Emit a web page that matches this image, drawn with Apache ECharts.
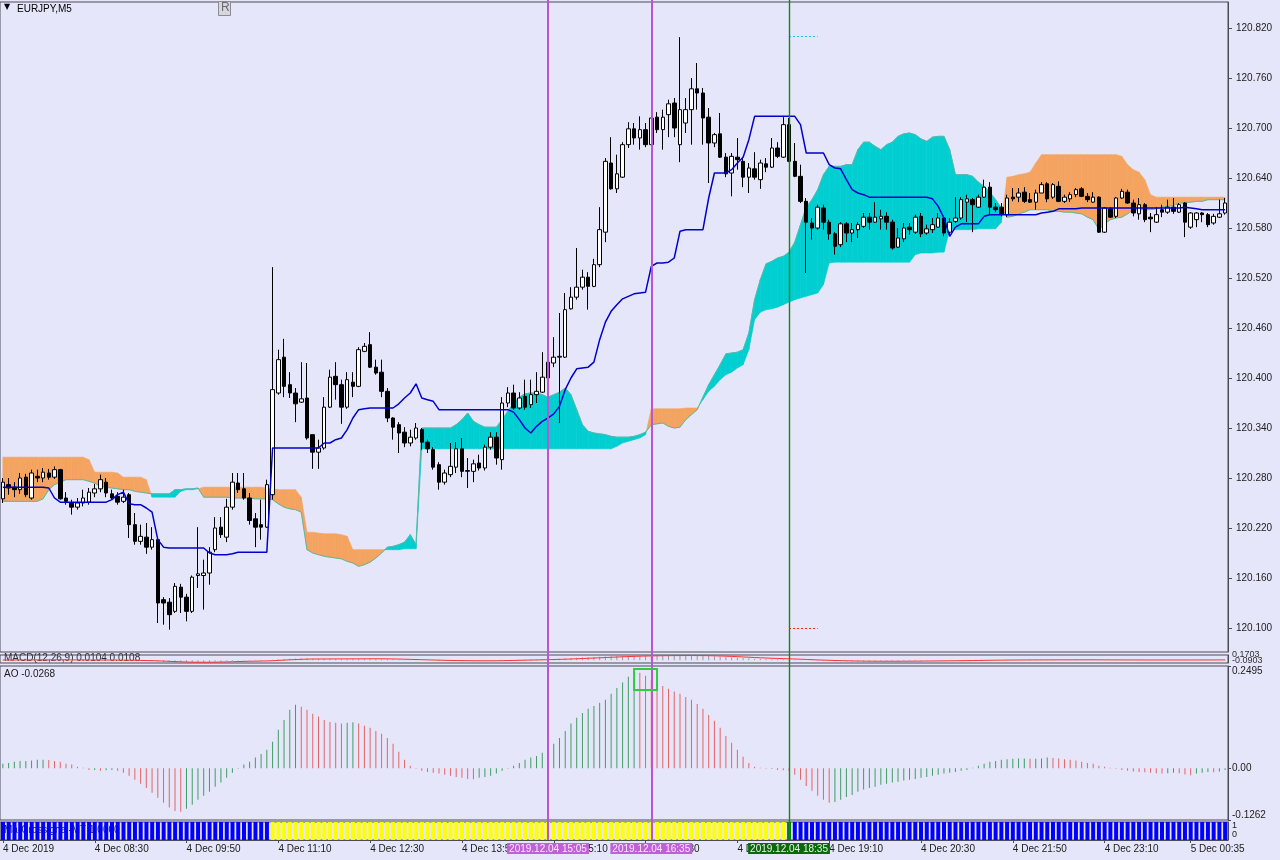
<!DOCTYPE html>
<html>
<head>
<meta charset="utf-8">
<title>EURJPY,M5</title>
<script src="https://cdn.jsdelivr.net/npm/echarts@6.0.0/dist/echarts.min.js"></script>
<style>
  html, body { margin: 0; padding: 0; background: #E6E6FA; }
  #chart { width: 1280px; height: 860px; }
</style>
</head>
<body>
<div id="chart"></div>
<script>
// EURJPY M5, 4 Dec 2019 07:10 -> 5 Dec 00:55
var opens = [
  120.255,120.272,120.269,120.266,120.281,120.256,120.282,120.280,120.286,120.281,
  120.290,120.256,120.250,120.245,120.250,120.251,120.262,120.267,120.275,120.261,
  120.258,120.252,120.260,120.224,120.204,120.209,120.197,120.206,120.134,120.131,
  120.120,120.149,120.137,120.120,120.163,120.163,120.166,120.194,120.221,120.209,
  120.245,120.274,120.267,120.256,120.231,120.224,120.221,120.260,120.382,120.425,
  120.392,120.382,120.371,120.376,120.332,120.311,120.316,120.365,120.402,120.392,
  120.365,120.395,120.390,120.432,120.440,120.413,120.407,120.384,120.352,120.344,
  120.335,120.322,120.328,120.338,120.323,120.314,120.296,120.275,120.284,120.293,
  120.315,120.288,120.288,120.298,120.292,120.317,120.329,120.302,120.370,120.382,
  120.364,120.378,120.368,120.380,120.383,120.400,120.418,120.425,120.425,120.483,
  120.497,120.509,120.521,120.510,120.536,120.575,120.658,120.627,120.641,120.680,
  120.699,120.688,120.698,120.680,120.713,120.698,120.716,120.730,120.680,120.706,
  120.722,120.747,120.742,120.713,120.682,120.693,120.665,120.646,120.665,120.660,
  120.641,120.651,120.638,120.657,120.653,120.676,120.665,120.704,120.660,120.642,
  120.612,120.586,120.580,120.604,120.587,120.573,120.560,120.585,120.574,120.578,
  120.582,120.593,120.587,120.591,120.594,120.587,120.557,120.567,120.581,120.575,
  120.594,120.574,120.578,120.581,120.592,120.575,120.588,120.592,120.611,120.614,
  120.605,120.617,120.629,120.605,120.605,120.596,120.617,120.617,120.623,120.614,
  120.611,120.622,120.633,120.617,120.630,120.612,120.615,120.620,120.627,120.618,
  120.611,120.617,120.575,120.603,120.594,120.616,120.623,120.610,120.597,120.608,
  120.593,120.587,120.602,120.599,120.605,120.599,120.610,120.581,120.590,120.598,
  120.596,120.586,120.593,120.598
];
var closes = [
  120.275,120.268,120.266,120.280,120.260,120.286,120.280,120.287,120.281,120.290,
  120.255,120.252,120.245,120.250,120.256,120.263,120.267,120.278,120.262,120.256,
  120.251,120.257,120.224,120.204,120.210,120.197,120.206,120.130,120.130,120.116,
  120.150,120.137,120.120,120.161,120.165,120.166,120.191,120.220,120.212,120.245,
  120.275,120.266,120.256,120.229,120.221,120.221,120.272,120.386,120.422,120.390,
  120.382,120.369,120.375,120.328,120.311,120.316,120.365,120.401,120.392,120.365,
  120.398,120.390,120.434,120.438,120.413,120.406,120.384,120.352,120.341,120.334,
  120.322,120.329,120.340,120.323,120.315,120.293,120.275,120.286,120.294,120.315,
  120.288,120.289,120.297,120.292,120.317,120.329,120.304,120.370,120.382,120.364,
  120.376,120.365,120.380,120.384,120.401,120.419,120.425,120.426,120.482,120.497,
  120.509,120.521,120.510,120.536,120.578,120.660,120.627,120.645,120.680,120.699,
  120.688,120.698,120.680,120.712,120.698,120.713,120.729,120.700,120.722,120.722,
  120.747,120.742,120.712,120.682,120.692,120.665,120.645,120.666,120.662,120.641,
  120.652,120.641,120.658,120.653,120.676,120.666,120.704,120.660,120.642,120.612,
  120.587,120.580,120.605,120.587,120.573,120.558,120.585,120.574,120.578,120.584,
  120.593,120.587,120.593,120.594,120.587,120.556,120.568,120.580,120.578,120.593,
  120.573,120.579,120.584,120.592,120.574,120.587,120.592,120.614,120.615,120.608,
  120.617,120.629,120.605,120.602,120.597,120.616,120.615,120.622,120.612,120.611,
  120.622,120.632,120.615,120.632,120.612,120.617,120.620,120.626,120.618,120.614,
  120.617,120.575,120.604,120.593,120.616,120.624,120.610,120.598,120.608,120.590,
  120.591,120.596,120.599,120.605,120.600,120.608,120.587,120.598,120.598,120.596,
  120.584,120.594,120.597,120.610
];
var lows = [
  120.250,120.260,120.257,120.261,120.257,120.254,120.275,120.275,120.278,120.279,
  120.254,120.248,120.236,120.242,120.246,120.248,120.257,120.263,120.257,120.254,
  120.248,120.250,120.208,120.200,120.200,120.189,120.194,120.106,120.104,120.098,
  120.118,120.118,120.108,120.118,120.148,120.122,120.152,120.191,120.208,120.203,
  120.242,120.262,120.254,120.224,120.197,120.206,120.220,120.254,120.380,120.377,
  120.376,120.347,120.370,120.326,120.291,120.291,120.314,120.364,120.374,120.345,
  120.363,120.377,120.389,120.431,120.412,120.404,120.377,120.347,120.326,120.310,
  120.317,120.318,120.326,120.314,120.310,120.290,120.266,120.272,120.281,120.286,
  120.281,120.268,120.275,120.289,120.289,120.314,120.296,120.290,120.365,120.362,
  120.362,120.362,120.364,120.370,120.382,120.398,120.413,120.346,120.424,120.482,
  120.494,120.506,120.482,120.509,120.533,120.563,120.626,120.622,120.640,120.676,
  120.680,120.674,120.677,120.671,120.694,120.674,120.689,120.689,120.659,120.694,
  120.680,120.722,120.680,120.634,120.677,120.664,120.641,120.618,120.650,120.629,
  120.622,120.638,120.627,120.647,120.652,120.664,120.664,120.659,120.641,120.610,
  120.526,120.566,120.578,120.578,120.566,120.548,120.557,120.563,120.563,120.568,
  120.580,120.578,120.586,120.578,120.578,120.554,120.556,120.563,120.572,120.573,
  120.569,120.572,120.574,120.580,120.570,120.573,120.586,120.590,120.587,120.575,
  120.604,120.616,120.596,120.599,120.594,120.593,120.612,120.611,120.610,120.610,
  120.602,120.622,120.611,120.615,120.611,120.610,120.611,120.617,120.617,120.611,
  120.610,120.574,120.574,120.592,120.592,120.615,120.609,120.594,120.590,120.587,
  120.575,120.586,120.593,120.597,120.597,120.598,120.569,120.579,120.581,120.587,
  120.581,120.584,120.592,120.596
];
var highs = [
  120.280,120.280,120.275,120.286,120.285,120.290,120.290,120.292,120.291,120.294,
  120.291,120.263,120.254,120.256,120.266,120.268,120.273,120.284,120.280,120.266,
  120.263,120.266,120.262,120.238,120.224,120.226,120.221,120.208,120.137,120.136,
  120.154,120.153,120.141,120.163,120.221,120.182,120.197,120.233,120.233,120.255,
  120.286,120.286,120.286,120.262,120.238,120.254,120.278,120.533,120.434,120.447,
  120.407,120.388,120.419,120.418,120.332,120.326,120.377,120.410,120.419,120.398,
  120.407,120.407,120.437,120.442,120.455,120.422,120.422,120.388,120.353,120.347,
  120.341,120.338,120.346,120.340,120.326,120.317,120.299,120.290,120.322,120.323,
  120.328,120.304,120.302,120.308,120.320,120.335,120.335,120.377,120.389,120.392,
  120.383,120.398,120.398,120.407,120.431,120.431,120.449,120.478,120.502,120.509,
  120.556,120.530,120.527,120.543,120.605,120.664,120.689,120.668,120.683,120.707,
  120.706,120.714,120.706,120.731,120.719,120.722,120.734,120.736,120.809,120.736,
  120.760,120.778,120.748,120.724,120.694,120.718,120.670,120.670,120.688,120.664,
  120.658,120.671,120.662,120.664,120.688,120.683,120.713,120.712,120.682,120.656,
  120.616,120.592,120.608,120.608,120.590,120.575,120.587,120.587,120.586,120.587,
  120.598,120.598,120.611,120.602,120.599,120.590,120.580,120.586,120.586,120.596,
  120.598,120.584,120.592,120.598,120.594,120.592,120.617,120.617,120.620,120.616,
  120.620,120.638,120.635,120.610,120.610,120.620,120.628,120.628,120.629,120.622,
  120.626,120.635,120.635,120.634,120.636,120.620,120.623,120.628,120.629,120.622,
  120.623,120.618,120.605,120.605,120.617,120.627,120.626,120.614,120.616,120.610,
  120.598,120.605,120.608,120.614,120.616,120.610,120.611,120.599,120.599,120.599,
  120.598,120.597,120.614,120.616
];
// Ichimoku: kijun (blue), senkou span A / B (cloud)
var kijun = [
  120.269,120.269,120.269,120.269,120.269,120.269,120.269,120.269,120.268,120.256,
  120.251,120.251,120.251,120.251,120.251,120.251,120.251,120.251,120.251,120.254,
  120.260,120.263,120.249,120.248,120.248,120.244,120.239,120.206,120.197,120.196,
  120.196,120.196,120.196,120.196,120.196,120.196,120.190,120.188,120.188,120.188,
  120.189,120.191,120.191,120.191,120.191,120.191,120.191,120.316,120.316,120.316,
  120.316,120.316,120.316,120.316,120.316,120.316,120.322,120.322,120.326,120.328,
  120.338,120.352,120.362,120.363,120.364,120.364,120.364,120.364,120.364,120.369,
  120.376,120.382,120.393,120.376,120.374,120.372,120.362,120.362,120.362,120.362,
  120.362,120.362,120.362,120.362,120.362,120.362,120.362,120.362,120.362,120.359,
  120.350,120.340,120.334,120.342,120.348,120.352,120.357,120.366,120.386,120.400,
  120.411,120.412,120.413,120.419,120.446,120.467,120.480,120.488,120.495,120.498,
  120.501,120.502,120.503,120.534,120.538,120.538,120.539,120.544,120.576,120.578,
  120.578,120.578,120.578,120.616,120.646,120.646,120.646,120.650,120.658,120.665,
  120.686,120.714,120.714,120.714,120.714,120.714,120.714,120.714,120.714,120.704,
  120.670,120.670,120.670,120.670,120.656,120.652,120.651,120.638,120.626,120.622,
  120.620,120.617,120.617,120.617,120.617,120.617,120.617,120.617,120.617,120.617,
  120.617,120.617,120.615,120.606,120.592,120.570,120.581,120.585,120.585,120.585,
  120.585,120.594,120.596,120.596,120.596,120.596,120.596,120.596,120.596,120.596,
  120.596,120.598,120.599,120.600,120.603,120.603,120.603,120.603,120.604,120.604,
  120.604,120.604,120.604,120.604,120.604,120.604,120.604,120.604,120.604,120.604,
  120.604,120.604,120.604,120.604,120.604,120.604,120.605,120.604,120.603,120.602,
  120.602,120.602,120.602,120.602
];
var spanA = [
  120.252,120.252,120.252,120.252,120.252,120.252,120.252,120.255,120.266,120.272,
  120.275,120.278,120.278,120.278,120.278,120.276,120.274,120.270,120.269,120.268,
  120.267,120.266,120.266,120.264,120.263,120.262,120.261,120.261,120.261,120.261,
  120.266,120.266,120.267,120.267,120.268,120.257,120.257,120.257,120.257,120.257,
  120.256,120.256,120.256,120.256,120.255,120.255,120.255,120.254,120.249,120.245,
  120.243,120.242,120.239,120.194,120.190,120.188,120.186,120.185,120.184,120.183,
  120.180,120.178,120.174,120.176,120.179,120.184,120.190,120.197,120.198,120.200,
  120.203,120.212,120.200,120.340,120.340,120.340,120.340,120.340,120.340,120.344,
  120.350,120.358,120.348,120.344,120.341,120.341,120.341,120.350,120.360,120.370,
  120.377,120.381,120.382,120.382,120.380,120.377,120.380,120.383,120.388,120.380,
  120.362,120.344,120.336,120.334,120.333,120.332,120.330,120.329,120.329,120.329,
  120.330,120.332,120.335,120.344,120.345,120.346,120.342,120.340,120.341,120.350,
  120.356,120.362,120.377,120.392,120.404,120.416,120.429,120.430,120.431,120.434,
  120.454,120.494,120.518,120.537,120.540,120.544,120.546,120.551,120.563,120.584,
  120.605,120.614,120.626,120.644,120.654,120.654,120.654,120.656,120.656,120.674,
  120.683,120.683,120.678,120.674,120.680,120.683,120.690,120.693,120.694,120.692,
  120.687,120.684,120.689,120.690,120.690,120.674,120.644,120.644,120.644,120.642,
  120.635,120.630,120.623,120.614,120.604,120.593,120.594,120.597,120.599,120.602,
  120.602,120.602,120.602,120.600,120.600,120.599,120.599,120.598,120.597,120.593,
  120.590,120.578,120.585,120.590,120.592,120.593,120.597,120.602,120.602,120.602,
  120.602,120.603,120.605,120.606,120.607,120.610,120.610,120.611,120.612,120.612,
  120.614,120.614,120.614,120.614
];
var spanB = [
  120.305,120.305,120.305,120.305,120.305,120.305,120.305,120.305,120.305,120.305,
  120.305,120.305,120.305,120.305,120.305,120.302,120.287,120.287,120.287,120.287,
  120.286,120.281,120.281,120.281,120.281,120.278,120.257,120.257,120.257,120.257,
  120.257,120.264,120.266,120.266,120.267,120.269,120.269,120.269,120.269,120.269,
  120.269,120.269,120.269,120.269,120.269,120.269,120.268,120.267,120.266,120.266,
  120.266,120.266,120.257,120.215,120.215,120.214,120.213,120.213,120.213,120.212,
  120.210,120.194,120.194,120.194,120.194,120.194,120.194,120.194,120.194,120.194,
  120.195,120.195,120.195,120.315,120.315,120.315,120.315,120.315,120.315,120.315,
  120.315,120.315,120.315,120.315,120.315,120.315,120.315,120.315,120.315,120.315,
  120.315,120.315,120.315,120.315,120.315,120.315,120.315,120.315,120.315,120.315,
  120.315,120.315,120.315,120.315,120.315,120.315,120.315,120.318,120.322,120.324,
  120.326,120.328,120.332,120.363,120.363,120.363,120.363,120.363,120.363,120.364,
  120.364,120.364,120.374,120.384,120.390,120.398,120.404,120.407,120.412,120.416,
  120.434,120.470,120.479,120.482,120.483,120.485,120.488,120.491,120.494,120.496,
  120.498,120.500,120.502,120.512,120.538,120.539,120.539,120.539,120.539,120.539,
  120.539,120.539,120.539,120.539,120.539,120.539,120.539,120.539,120.539,120.548,
  120.550,120.550,120.550,120.551,120.551,120.578,120.578,120.578,120.578,120.578,
  120.579,120.579,120.579,120.579,120.587,120.641,120.642,120.644,120.645,120.647,
  120.658,120.668,120.668,120.668,120.668,120.668,120.668,120.668,120.668,120.668,
  120.668,120.668,120.668,120.668,120.668,120.666,120.656,120.650,120.647,120.638,
  120.620,120.617,120.617,120.617,120.617,120.617,120.617,120.617,120.617,120.617,
  120.617,120.617,120.617,120.617
];
var macdMain = [
  0.010,0.011,0.012,0.013,0.014,0.015,0.015,0.016,0.016,0.016,
  0.013,0.010,0.006,0.004,0.003,0.002,0.002,0.003,0.003,0.002,
  0.001,-0.002,-0.008,-0.015,-0.020,-0.026,-0.030,-0.045,-0.058,-0.070,
  -0.075,-0.079,-0.082,-0.080,-0.076,-0.070,-0.062,-0.053,-0.046,-0.037,
  -0.027,-0.020,-0.015,-0.014,-0.014,-0.014,-0.009,0.012,0.032,0.044,
  0.052,0.056,0.059,0.057,0.052,0.046,0.045,0.047,0.047,0.045,
  0.046,0.045,0.048,0.051,0.050,0.048,0.044,0.037,0.030,0.022,
  0.015,0.009,0.005,0.000,-0.005,-0.011,-0.018,-0.022,-0.024,-0.022,
  -0.023,-0.024,-0.023,-0.022,-0.019,-0.014,-0.012,-0.003,0.006,0.011,
  0.016,0.019,0.023,0.026,0.031,0.037,0.043,0.048,0.058,0.068,
  0.078,0.087,0.094,0.102,0.111,0.124,0.131,0.137,0.143,0.150,
  0.153,0.155,0.155,0.156,0.157,0.157,0.158,0.156,0.155,0.152,
  0.152,0.150,0.144,0.135,0.126,0.116,0.104,0.093,0.083,0.071,
  0.062,0.052,0.046,0.039,0.035,0.030,0.029,0.024,0.016,0.007,
  -0.004,-0.012,-0.017,-0.022,-0.027,-0.033,-0.035,-0.038,-0.040,-0.040,
  -0.039,-0.038,-0.036,-0.034,-0.032,-0.033,-0.031,-0.028,-0.026,-0.023,
  -0.022,-0.020,-0.018,-0.015,-0.014,-0.012,-0.010,-0.006,-0.002,0.001,
  0.004,0.008,0.009,0.010,0.010,0.011,0.012,0.013,0.013,0.013,
  0.013,0.014,0.014,0.015,0.014,0.014,0.014,0.014,0.014,0.013,
  0.013,0.010,0.009,0.008,0.008,0.009,0.009,0.008,0.008,0.007,
  0.007,0.007,0.008,0.008,0.009,0.009,0.008,0.009,0.010,0.010,
  0.010,0.010,0.010,0.0104
];
var macdSignal = [
  0.008,0.008,0.009,0.010,0.010,0.011,0.012,0.013,0.013,0.014,
  0.014,0.013,0.012,0.011,0.010,0.008,0.007,0.006,0.006,0.005,
  0.004,0.003,0.001,-0.002,-0.006,-0.010,-0.014,-0.020,-0.027,-0.036,
  -0.044,-0.051,-0.057,-0.062,-0.065,-0.066,-0.065,-0.063,-0.059,-0.055,
  -0.049,-0.043,-0.038,-0.033,-0.030,-0.026,-0.023,-0.016,-0.006,0.004,
  0.014,0.022,0.030,0.035,0.039,0.040,0.041,0.042,0.043,0.044,
  0.044,0.044,0.045,0.046,0.047,0.047,0.047,0.045,0.042,0.038,
  0.033,0.028,0.023,0.018,0.013,0.008,0.003,-0.002,-0.007,-0.010,
  -0.013,-0.015,-0.017,-0.018,-0.018,-0.018,-0.017,-0.014,-0.010,-0.006,
  -0.002,0.002,0.006,0.010,0.014,0.018,0.023,0.028,0.034,0.040,
  0.048,0.056,0.063,0.071,0.079,0.088,0.096,0.104,0.112,0.119,
  0.126,0.132,0.137,0.141,0.144,0.147,0.149,0.151,0.152,0.153,
  0.153,0.152,0.151,0.148,0.144,0.138,0.132,0.124,0.116,0.107,
  0.098,0.089,0.080,0.072,0.064,0.058,0.052,0.046,0.040,0.033,
  0.026,0.018,0.011,0.004,-0.002,-0.008,-0.013,-0.018,-0.022,-0.026,
  -0.029,-0.031,-0.032,-0.033,-0.033,-0.033,-0.033,-0.032,-0.031,-0.030,
  -0.028,-0.026,-0.025,-0.023,-0.021,-0.019,-0.017,-0.015,-0.012,-0.010,
  -0.007,-0.004,-0.001,0.001,0.003,0.005,0.006,0.008,0.009,0.010,
  0.011,0.011,0.012,0.012,0.013,0.013,0.013,0.013,0.014,0.014,
  0.014,0.013,0.013,0.012,0.011,0.011,0.010,0.010,0.010,0.009,
  0.009,0.009,0.009,0.009,0.009,0.009,0.009,0.009,0.009,0.010,
  0.010,0.010,0.011,0.0108
];
var ao = [
  0.011,0.013,0.016,0.018,0.018,0.019,0.021,0.021,0.020,0.018,
  0.016,0.011,0.009,0.004,0.001,-0.004,-0.004,-0.006,-0.005,-0.004,
  -0.006,-0.011,-0.018,-0.028,-0.038,-0.048,-0.060,-0.072,-0.084,-0.096,
  -0.104,-0.106,-0.099,-0.089,-0.077,-0.067,-0.057,-0.045,-0.035,-0.023,
  -0.011,-0.001,0.009,0.016,0.026,0.035,0.045,0.065,0.094,0.118,
  0.143,0.155,0.150,0.143,0.133,0.126,0.118,0.113,0.111,0.109,
  0.111,0.112,0.109,0.104,0.099,0.091,0.084,0.074,0.060,0.040,
  0.021,0.006,-0.001,-0.006,-0.009,-0.011,-0.013,-0.016,-0.018,-0.021,
  -0.023,-0.026,-0.027,-0.023,-0.021,-0.018,-0.013,-0.006,-0.001,0.006,
  0.013,0.021,0.026,0.030,0.038,0.048,0.060,0.074,0.091,0.109,
  0.123,0.135,0.145,0.152,0.160,0.167,0.182,0.196,0.209,0.223,
  0.235,0.233,0.226,0.216,0.209,0.201,0.194,0.187,0.182,0.174,
  0.167,0.157,0.145,0.130,0.116,0.099,0.079,0.062,0.045,0.028,
  0.013,0.004,0.001,-0.001,-0.002,-0.004,-0.005,-0.006,-0.016,-0.028,
  -0.043,-0.055,-0.067,-0.077,-0.084,-0.082,-0.077,-0.070,-0.065,-0.057,
  -0.052,-0.048,-0.045,-0.040,-0.038,-0.035,-0.033,-0.030,-0.028,-0.026,
  -0.023,-0.021,-0.018,-0.016,-0.013,-0.011,-0.009,-0.006,-0.004,0.001,
  0.006,0.011,0.016,0.018,0.021,0.022,0.023,0.024,0.024,0.023,
  0.023,0.024,0.026,0.025,0.024,0.022,0.021,0.019,0.016,0.013,
  0.011,0.006,0.004,0.001,-0.001,-0.004,-0.006,-0.008,-0.009,-0.010,
  -0.011,-0.012,-0.013,-0.012,-0.011,-0.012,-0.015,-0.017,-0.013,-0.011,
  -0.009,-0.010,-0.008,-0.004
];
// MA-Crossignal state as run lengths: [bars, state] 0 = blue, 1 = yellow, 2 = green
var signalRuns = [[47, 0], [90, 1], [1, 2], [76, 0]];
// highlighted AO peak box: [first bar, last bar, top, bottom]
var aoBox = [110, 114, 0.242, 0.191];

var priceTicks = [120.100, 120.160, 120.220, 120.280, 120.340, 120.400, 120.460,
                  120.520, 120.580, 120.640, 120.700, 120.760, 120.820];
var aoTicks = [-0.1262, 0, 0.2495];
var tickIdx = [0, 16, 32, 48, 64, 80, 96, 112, 128, 144, 160, 176, 192, 207];
var tickLabels = ['4 Dec 2019', '4 Dec 08:30', '4 Dec 09:50', '4 Dec 11:10', '4 Dec 12:30',
                  '4 Dec 13:50', '4 Dec 15:10', '4 Dec 16:30', '4 Dec 17:50', '4 Dec 19:10',
                  '4 Dec 20:30', '4 Dec 21:50', '4 Dec 23:10', '5 Dec 00:35'];
var markerIdx = [95, 113, 137];

function pad(n) { return (n < 10 ? '0' : '') + n; }

// bar times: 5 minute bars from 07:10, the 00:00 and 00:05 bars are missing
var barTimes = [];
for (var i = 0; i < opens.length; i++) {
  var m = 430 + 5 * i + (i >= 202 ? 10 : 0);
  var day = m >= 1440 ? 5 : 4;
  m = m % 1440;
  barTimes.push('2019.12.0' + day + ' ' + pad(Math.floor(m / 60)) + ':' + pad(m % 60));
}

var signalState = [];
signalRuns.forEach(function (r) {
  for (var k = 0; k < r[0]; k++) signalState.push(r[1]);
});

var ORANGE = '#F4A460', CYAN = '#00CED1';
var FONT = '"Liberation Sans", Arial, sans-serif';
var AXIS = '#4a4a58';

var chart = echarts.init(document.getElementById('chart'));

function renderCloud(params, api) {
  var i = params.dataIndex;
  if (i >= spanA.length - 1) return;
  var a0 = api.coord([i, spanA[i]]), a1 = api.coord([i + 1, spanA[i + 1]]);
  var b0 = api.coord([i, spanB[i]]), b1 = api.coord([i + 1, spanB[i + 1]]);
  var d0 = spanA[i] - spanB[i], d1 = spanA[i + 1] - spanB[i + 1];
  function col(d) { return d >= 0 ? CYAN : ORANGE; }
  function poly(pts, c) {
    return { type: 'polygon', shape: { points: pts }, style: { fill: c, stroke: c, lineWidth: 0.6 } };
  }
  if (d0 * d1 >= 0) {
    return poly([a0, a1, b1, b0], col(d0 !== 0 ? d0 : d1));
  }
  var t = d0 / (d0 - d1);
  var p = [a0[0] + t * (a1[0] - a0[0]), a0[1] + t * (a1[1] - a0[1])];
  return { type: 'group', children: [poly([a0, p, b0], col(d0)), poly([p, a1, b1], col(d1))] };
}

function renderBox(params, api) {
  var p0 = api.coord([api.value(0), api.value(2)]);
  var p1 = api.coord([api.value(1), api.value(3)]);
  return {
    type: 'rect',
    shape: { x: p0[0], y: p0[1], width: p1[0] - p0[0], height: p1[1] - p0[1] },
    style: { fill: 'none', stroke: '#2ECC40', lineWidth: 2 }
  };
}

function catAxis(gi, showLabels) {
  var showFn = function (idx) { return tickIdx.indexOf(idx) >= 0; };
  return {
    type: 'category', gridIndex: gi, data: barTimes, boundaryGap: true,
    axisLine: { show: showLabels, lineStyle: { color: AXIS } },
    axisTick: { show: showLabels, interval: showFn, alignWithLabel: true, length: 3, lineStyle: { color: AXIS } },
    axisLabel: {
      show: showLabels, interval: showFn, align: 'left', margin: 4,
      color: '#202020', fontSize: 10, fontFamily: FONT,
      formatter: function (v, idx) { return tickLabels[tickIdx.indexOf(idx)]; }
    },
    splitLine: { show: false }
  };
}

var gridBase = { left: 0, width: 1228, show: true, borderColor: AXIS, borderWidth: 1, backgroundColor: 'transparent' };

chart.setOption({
  animation: false,
  backgroundColor: '#E6E6FA',
  grid: [
    Object.assign({ top: 2, height: 650 }, gridBase),
    Object.assign({ top: 655, height: 8 }, gridBase),
    Object.assign({ top: 666, height: 154 }, gridBase),
    Object.assign({ top: 822, height: 18 }, gridBase),
    { left: 0, width: 1228, top: 0, height: 840, show: false }
  ],
  xAxis: [catAxis(0, false), catAxis(1, false), catAxis(2, false), catAxis(3, true),
          Object.assign(catAxis(4, false), { show: false })],
  yAxis: [
    {
      gridIndex: 0, position: 'right', min: 120.0712, max: 120.8512, scale: true,
      axisLine: { show: true, lineStyle: { color: AXIS } },
      axisTick: { show: true, length: 4, customValues: priceTicks, lineStyle: { color: AXIS } },
      axisLabel: { customValues: priceTicks, margin: 8, color: '#202020', fontSize: 10, fontFamily: FONT,
                   formatter: function (v) { return v.toFixed(3); } },
      splitLine: { show: false }
    },
    { gridIndex: 1, position: 'right', min: -0.09, max: 0.17, axisLine: { show: true, lineStyle: { color: AXIS } },
      axisTick: { show: false }, axisLabel: { show: false }, splitLine: { show: false } },
    {
      gridIndex: 2, position: 'right', min: -0.1262, max: 0.2495,
      axisLine: { show: true, lineStyle: { color: AXIS } },
      axisTick: { show: true, length: 3, customValues: aoTicks, lineStyle: { color: AXIS } },
      axisLabel: { customValues: aoTicks, margin: 4, color: '#202020', fontSize: 10, fontFamily: FONT,
                   verticalAlignMinLabel: 'bottom', verticalAlignMaxLabel: 'top',
                   formatter: function (v) { return v === 0 ? '0.00' : v.toFixed(4); } },
      splitLine: { show: false }
    },
    { gridIndex: 3, position: 'right', min: 0, max: 1, axisLine: { show: true, lineStyle: { color: AXIS } },
      axisTick: { show: false }, axisLabel: { show: false }, splitLine: { show: false } },
    { gridIndex: 4, min: 0, max: 1, show: false }
  ],
  series: [
    {
      type: 'custom', name: 'cloud', xAxisIndex: 0, yAxisIndex: 0, z: 1, clip: true, silent: true,
      renderItem: renderCloud,
      encode: { x: 0, y: [1, 2] },
      data: spanA.map(function (a, k) { return [k, a, spanB[k]]; })
    },
    {
      type: 'line', name: 'Senkou A', xAxisIndex: 0, yAxisIndex: 0, z: 2, symbol: 'none',
      lineStyle: { color: '#5CB8A0', width: 1 }, data: spanA
    },
    {
      type: 'candlestick', name: 'EURJPY', xAxisIndex: 0, yAxisIndex: 0, z: 3, barWidth: 4,
      itemStyle: { color: '#FFFFFF', color0: '#000000', borderColor: '#000000', borderColor0: '#000000', borderWidth: 1 },
      data: opens.map(function (o, k) { return [o, closes[k], lows[k], highs[k]]; }),
      markLine: {
        symbol: ['none', 'none'], silent: true, label: { show: false },
        data: [
          [{ coord: [barTimes[137], 120.810], lineStyle: { color: '#20C0E8', type: [2, 2], width: 1.2 } },
           { coord: [barTimes[142], 120.810] }],
          [{ coord: [barTimes[137], 120.100], lineStyle: { color: '#FF2020', type: [2, 2], width: 1.2 } },
           { coord: [barTimes[142], 120.100] }]
        ]
      }
    },
    {
      type: 'line', name: 'Kijun', xAxisIndex: 0, yAxisIndex: 0, z: 4, symbol: 'none',
      lineStyle: { color: '#0000CD', width: 1.5 }, data: kijun
    },
    {
      type: 'bar', name: 'MACD', xAxisIndex: 1, yAxisIndex: 1, barWidth: 1,
      itemStyle: { color: '#9A9AA0' }, data: macdMain
    },
    {
      type: 'line', name: 'Signal', xAxisIndex: 1, yAxisIndex: 1, symbol: 'none',
      lineStyle: { color: '#FF3030', width: 1 }, data: macdSignal
    },
    {
      type: 'bar', name: 'AO', xAxisIndex: 2, yAxisIndex: 2, barWidth: 1,
      data: ao.map(function (v, k) {
        var up = k === 0 || v >= ao[k - 1];
        return { value: v, itemStyle: { color: up ? '#3E9E62' : '#E46464' } };
      })
    },
    {
      type: 'custom', name: 'AO box', xAxisIndex: 2, yAxisIndex: 2, silent: true, z: 5,
      renderItem: renderBox,
      encode: { x: [0, 1], y: [2, 3] },
      data: [aoBox]
    },
    {
      type: 'bar', name: 'MA-Crossignal', xAxisIndex: 3, yAxisIndex: 3, barWidth: 4,
      data: signalState.map(function (s) {
        return { value: 1, itemStyle: { color: ['#0000FF', '#FFFF00', '#008000'][s] } };
      })
    },
    {
      type: 'line', name: 'markers', xAxisIndex: 4, yAxisIndex: 4, data: [], silent: true,
      markLine: {
        symbol: ['none', 'none'], silent: true, animation: false,
        data: markerIdx.map(function (idx, k) {
          var c = k < 2 ? '#BA55D3' : '#0E8A0E';
          var bg = k < 2 ? '#C060D8' : '#0A6A0A';
          return {
            xAxis: idx,
            lineStyle: { color: c, width: k < 2 ? 2 : 1.4, type: 'solid' },
            label: {
              show: true, position: 'start', distance: 3, formatter: barTimes[idx],
              color: '#F4ECF6', backgroundColor: bg, padding: [1, 2, 0, 2],
              fontSize: 10, fontFamily: FONT
            }
          };
        })
      }
    }
  ],
  graphic: [
    { type: 'text', x: 4, y: 3, style: { text: '\u25BC', font: '8px "DejaVu Sans"', fill: '#000' } },
    { type: 'text', x: 17, y: 4, style: { text: 'EURJPY,M5', font: '10px ' + FONT, fill: '#000' } },
    { type: 'rect', shape: { x: 218.5, y: 1.5, width: 12, height: 14 }, style: { fill: '#D6D6DE', stroke: '#8A8A92' } },
    { type: 'text', x: 221, y: 2, style: { text: 'R', font: '12px ' + FONT, fill: '#6A6A72' } },
    { type: 'text', x: 4, y: 653, style: { text: 'MACD(12,26,9) 0.0104 0.0108', font: '10px ' + FONT, fill: '#303030' } },
    { type: 'text', x: 4, y: 669, style: { text: 'AO -0.0268', font: '10px ' + FONT, fill: '#202020' } },
    { type: 'text', x: 4, y: 825, style: { text: 'Ma-Crossignal-MT 1.0000', font: '10px ' + FONT, fill: '#1A1A40' } },
    { type: 'text', x: 1232, y: 650, style: { text: '0.1703', font: '9px ' + FONT, fill: '#303030' } },
    { type: 'text', x: 1232, y: 656, style: { text: '-0.0903', font: '9px ' + FONT, fill: '#303030' } },
    { type: 'text', x: 1232, y: 821, style: { text: '1', font: '9px ' + FONT, fill: '#202020' } },
    { type: 'text', x: 1232, y: 830, style: { text: '0', font: '9px ' + FONT, fill: '#202020' } }
  ]
});
</script>
</body>
</html>
